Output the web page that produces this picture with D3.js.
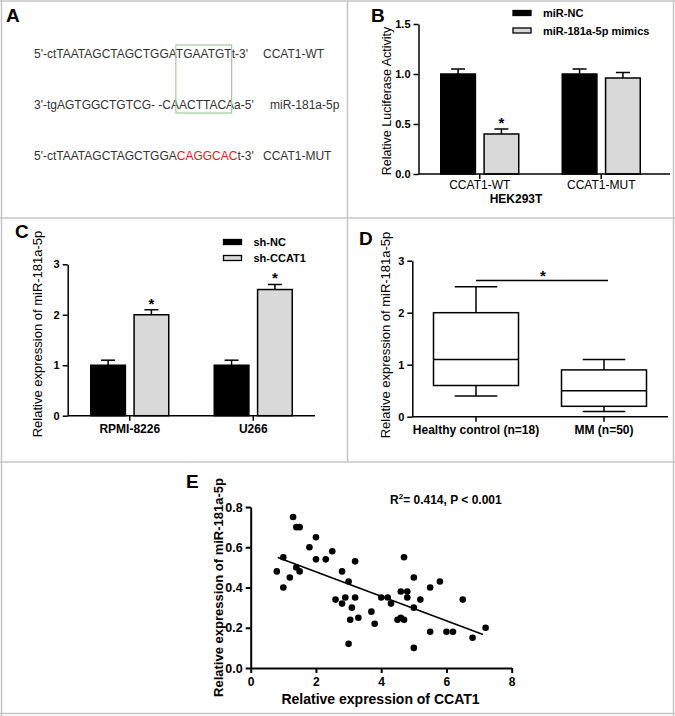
<!DOCTYPE html>
<html><head><meta charset="utf-8">
<script src="https://cdn.jsdelivr.net/npm/d3@7"></script>
<style>
html,body{margin:0;padding:0;background:#fff;}
svg{display:block;font-family:"Liberation Sans",Arial,sans-serif;}
</style></head><body>
<svg id="fig" width="675" height="716"></svg>
<script>
// ---------- DATA ----------
// Panel A: sequences
const seqWTPrefix = "5'-ctTAATAGCTAGCTGGA";
const seqWTSite = "TGAATGT";
const seqWTSuffix = "t-3'";
const seqMiR = "3'-tgAGTGGCTGTCG-  -CAACTTACAa-5'";
const seqMUTPrefix = "5'-ctTAATAGCTAGCTGGA";
const seqMUTSite = "CAGGCAC";
const seqMUTSuffix = "t-3'";
const seqNames = ["CCAT1-WT", "miR-181a-5p", "CCAT1-MUT"];

// Panel B
const bGroups = ["CCAT1-WT", "CCAT1-MUT"];
const bSeries = ["miR-NC", "miR-181a-5p mimics"];
const bValues = [[1.0, 0.40], [1.0, 0.96]];
const bErrors = [[0.05, 0.05], [0.05, 0.055]];
const bStars = [[false, true], [false, false]];
const bYTicks = [0, 0.5, 1.0, 1.5];
const bXTitle = "HEK293T";
const bYTitle = "Relative Luciferase Activity";

// Panel C
const cGroups = ["RPMI-8226", "U266"];
const cSeries = ["sh-NC", "sh-CCAT1"];
const cValues = [[1.0, 2.0], [1.0, 2.5]];
const cErrors = [[0.1, 0.1], [0.1, 0.1]];
const cStars = [[false, true], [false, true]];
const cYTicks = [0, 1, 2, 3];
const cYTitle = "Relative expression of miR-181a-5p";

// Panel D
const dGroups = ["Healthy control (n=18)", "MM (n=50)"];
const dMin = [0.4, 0.1];
const dQ1 = [0.6, 0.2];
const dMedian = [1.1, 0.5];
const dQ3 = [2.0, 0.9];
const dMax = [2.5, 1.1];
const dYTicks = [0, 1, 2, 3];
const dSigLevel = 2.62;
const dYTitle = "Relative expression of miR-181a-5p";

// Panel E
const eCCAT1 = [0.8,1.0,1.0,1.2,1.3,1.4,1.5,1.4,1.5,1.8,2.0,2.0,2.3,2.5,2.6,2.8,2.8,2.9,3.0,3.2,3.2,3.1,3.05,3.3,3.0,3.7,3.8,4.0,4.2,4.3,4.5,4.6,4.7,4.6,4.7,4.8,4.8,5.0,5.0,5.0,5.2,5.5,5.5,5.8,6.0,6.2,6.5,6.8,7.2];
const eMiR   = [0.48,0.55,0.40,0.45,0.75,0.70,0.70,0.50,0.48,0.60,0.65,0.54,0.54,0.58,0.34,0.48,0.32,0.35,0.43,0.53,0.35,0.30,0.24,0.25,0.12,0.28,0.22,0.35,0.35,0.32,0.24,0.25,0.24,0.38,0.55,0.38,0.35,0.45,0.30,0.10,0.34,0.40,0.18,0.43,0.18,0.18,0.34,0.15,0.20];
const eFitX = [0.83, 7.12];
const eFitY = [0.549, 0.166];
const eXTicks = [0, 2, 4, 6, 8];
const eYTicks = [0, 0.2, 0.4, 0.6, 0.8];
const eXTitle = "Relative expression of CCAT1";
const eYTitle = "Relative expression of miR-181a-5p";
const eStat = ["R", "2", "= 0.414, P < 0.001"];

// ---------- DRAW ----------
const FONT = '"Liberation Sans", Arial, sans-serif';
const svg = d3.select("#fig");
const GRAYFILL = "#d9d9d9";

// frame lines
const frame = svg.append("g").attr("stroke", "#c6c6c6").attr("stroke-width", 1.5).attr("fill", "none");
frame.append("line").attr("x1", 0).attr("x2", 675).attr("y1", 1).attr("y2", 1);
frame.append("line").attr("x1", 0).attr("x2", 675).attr("y1", 218).attr("y2", 218);
frame.append("line").attr("x1", 0).attr("x2", 675).attr("y1", 462).attr("y2", 462);
frame.append("line").attr("x1", 0).attr("x2", 675).attr("y1", 713.5).attr("y2", 713.5);
frame.append("line").attr("x1", 1.5).attr("x2", 1.5).attr("y1", 0).attr("y2", 716);
frame.append("line").attr("x1", 673.5).attr("x2", 673.5).attr("y1", 0).attr("y2", 716);
frame.append("line").attr("x1", 347.5).attr("x2", 347.5).attr("y1", 0).attr("y2", 462);

function panelLetter(t, x, y) {
  svg.append("text").attr("x", x).attr("y", y).text(t)
    .attr("font-family", FONT).attr("font-weight", "bold").attr("font-size", 19).attr("fill", "#000");
}
panelLetter("A", 6, 22);
panelLetter("B", 371, 22);
panelLetter("C", 15, 238);
panelLetter("D", 359, 245);
panelLetter("E", 186, 488);

// ---------- Panel A ----------
const aG = svg.append("g").attr("font-family", FONT).attr("font-size", 12).attr("fill", "#333")
  .style("white-space", "pre");
const aX = 34;
const t1 = aG.append("text").attr("x", aX).attr("y", 58);
const t1a = t1.append("tspan").text(seqWTPrefix);
t1.append("tspan").text(seqWTSite);
t1.append("tspan").text(seqWTSuffix);
aG.append("text").attr("x", 263).attr("y", 58).text(seqNames[0]);
aG.append("text").attr("x", aX).attr("y", 109).text(seqMiR);
aG.append("text").attr("x", 270).attr("y", 109).text(seqNames[1]);
const t3 = aG.append("text").attr("x", aX).attr("y", 160);
t3.append("tspan").text(seqMUTPrefix);
t3.append("tspan").text(seqMUTSite).attr("fill", "#e02020");
t3.append("tspan").text(seqMUTSuffix);
aG.append("text").attr("x", 263).attr("y", 160).text(seqNames[2]);
// green seed box measured from text
const tnode = t1.node();
const boxL = aX + tnode.getSubStringLength(0, seqWTPrefix.length);
const boxW = tnode.getSubStringLength(seqWTPrefix.length, seqWTSite.length);
svg.append("rect").attr("x", boxL).attr("y", 45).attr("width", boxW).attr("height", 68)
  .attr("fill", "none").attr("stroke", "#9fce9f").attr("stroke-width", 1.2);

// ---------- helpers ----------
function styleAxis(g, sw, fs) {
  g.attr("font-family", FONT).attr("font-size", fs).attr("font-weight", "bold");
  g.select(".domain").attr("stroke", "#000").attr("stroke-width", sw);
  g.selectAll(".tick line").attr("stroke", "#000").attr("stroke-width", sw);
  g.selectAll(".tick text").attr("fill", "#000");
}

function barPanel(o) {
  const g = svg.append("g");
  const y = d3.scaleLinear().domain([o.yTicks[0], o.yTicks[o.yTicks.length - 1]]).range(o.yRange);
  const x = d3.scaleBand().domain(o.groups).range(o.xBand).padding(0);
  const sub = d3.scaleBand().domain(o.series).range([-o.subHalf, o.subHalf]).paddingInner(o.subPad);
  // bars
  o.groups.forEach((grp, i) => {
    o.series.forEach((s, j) => {
      const cx = x(grp) + x.bandwidth() / 2;
      const bx = cx + sub(s);
      const v = o.values[i][j], e = o.errors[i][j];
      const bcx = bx + sub.bandwidth() / 2;
      // error bar
      g.append("line").attr("x1", bcx).attr("x2", bcx).attr("y1", y(v)).attr("y2", y(v + e))
        .attr("stroke", "#000").attr("stroke-width", 1.5);
      g.append("line").attr("x1", bcx - 7).attr("x2", bcx + 7).attr("y1", y(v + e)).attr("y2", y(v + e))
        .attr("stroke", "#000").attr("stroke-width", 1.5);
      g.append("rect").attr("x", bx).attr("y", y(v)).attr("width", sub.bandwidth())
        .attr("height", y(0) - y(v)).attr("fill", j === 0 ? "#000" : GRAYFILL)
        .attr("stroke", "#000").attr("stroke-width", 1.5);
      if (o.stars[i][j]) {
        g.append("text").attr("x", bcx).attr("y", y(v + e) - 1).attr("text-anchor", "middle")
          .attr("font-family", FONT).attr("font-weight", "bold").attr("font-size", 15).text("*");
      }
    });
  });
  // axes
  const ya = g.append("g").attr("transform", `translate(${o.xAxisStart},0)`)
    .call(d3.axisLeft(y).tickValues(o.yTicks).tickFormat(o.yFmt).tickSize(5).tickSizeOuter(0));
  styleAxis(ya, 1.5, 11);
  const xa = g.append("g").attr("transform", `translate(0,${o.yRange[0]})`)
    .call(d3.axisBottom(x).tickSize(5).tickSizeOuter(0));
  styleAxis(xa, 1.5, 12);
  xa.select(".domain").attr("d", `M${o.xAxisStart},0H${o.xAxisEnd}`);
  xa.selectAll(".tick text").attr("font-weight", o.xLabelWeight).attr("dy", null).attr("y", o.xLabelDy);
  // y title
  g.append("text").attr("transform", `translate(${o.yTitleX},${o.yTitleY}) rotate(-90)`)
    .attr("text-anchor", "middle").attr("font-family", FONT).attr("font-size", o.yTitleSize)
    .attr("fill", "#000").text(o.yTitle);
  // legend
  o.series.forEach((s, j) => {
    g.append("rect").attr("x", o.legX).attr("y", o.legY + j * o.legStep).attr("width", 18).attr("height", 5)
      .attr("fill", j === 0 ? "#000" : GRAYFILL).attr("stroke", "#000").attr("stroke-width", 1.3);
    g.append("text").attr("x", o.legX + 30).attr("y", o.legY + j * o.legStep + 6.5)
      .attr("font-family", FONT).attr("font-weight", "bold").attr("font-size", 11).text(s);
  });
  return g;
}

// ---------- Panel B ----------
const gB = barPanel({
  groups: bGroups, series: bSeries, values: bValues, errors: bErrors, stars: bStars,
  yTicks: bYTicks, yRange: [174, 24], yFmt: d3.format(".1f"),
  xBand: [419, 662], subHalf: 39, subPad: 0.2, xAxisStart: 418.5, xAxisEnd: 670,
  xLabelWeight: "normal", xLabelDy: 15,
  yTitle: bYTitle, yTitleX: 391, yTitleY: 101, yTitleSize: 12.5,
  legX: 513, legY: 10.5, legStep: 17.5
});
gB.append("text").attr("x", 516).attr("y", 203).attr("text-anchor", "middle")
  .attr("font-family", FONT).attr("font-weight", "bold").attr("font-size", 12).text(bXTitle);

// ---------- Panel C ----------
barPanel({
  groups: cGroups, series: cSeries, values: cValues, errors: cErrors, stars: cStars,
  yTicks: cYTicks, yRange: [415.7, 264.3], yFmt: d3.format("d"),
  xBand: [68, 315], subHalf: 39, subPad: 0.2, xAxisStart: 67.7, xAxisEnd: 315,
  xLabelWeight: "bold", xLabelDy: 17,
  yTitle: cYTitle, yTitleX: 42, yTitleY: 334, yTitleSize: 13,
  legX: 223.5, legY: 239.5, legStep: 16
});

// ---------- Panel D ----------
(function () {
  const g = svg.append("g");
  const y = d3.scaleLinear().domain([0, 3]).range([416.7, 260.7]);
  const x = d3.scaleBand().domain(dGroups).range([412, 668]).padding(0);
  const bw = 85;
  dGroups.forEach((grp, i) => {
    const cx = x(grp) + x.bandwidth() / 2;
    const st = { stroke: "#000", "stroke-width": 1.5 };
    const ln = (x1, y1, x2, y2) => g.append("line").attr("x1", x1).attr("y1", y1).attr("x2", x2).attr("y2", y2)
      .attr("stroke", "#000").attr("stroke-width", 1.5);
    ln(cx, y(dQ3[i]), cx, y(dMax[i]));
    ln(cx, y(dQ1[i]), cx, y(dMin[i]));
    ln(cx - bw / 4, y(dMax[i]), cx + bw / 4, y(dMax[i]));
    ln(cx - bw / 4, y(dMin[i]), cx + bw / 4, y(dMin[i]));
    g.append("rect").attr("x", cx - bw / 2).attr("y", y(dQ3[i])).attr("width", bw)
      .attr("height", y(dQ1[i]) - y(dQ3[i])).attr("fill", "#fff").attr("stroke", "#000").attr("stroke-width", 1.5);
    ln(cx - bw / 2, y(dMedian[i]), cx + bw / 2, y(dMedian[i]));
  });
  const c0 = x(dGroups[0]) + x.bandwidth() / 2, c1 = x(dGroups[1]) + x.bandwidth() / 2;
  g.append("line").attr("x1", c0).attr("x2", c1 + 4).attr("y1", y(dSigLevel)).attr("y2", y(dSigLevel))
    .attr("stroke", "#000").attr("stroke-width", 1.5);
  g.append("text").attr("x", (c0 + c1) / 2 + 3).attr("y", y(dSigLevel) + 1).attr("text-anchor", "middle")
    .attr("font-family", FONT).attr("font-weight", "bold").attr("font-size", 15).text("*");
  const ya = g.append("g").attr("transform", "translate(412.3,0)")
    .call(d3.axisLeft(y).tickValues(dYTicks).tickFormat(d3.format("d")).tickSize(5).tickSizeOuter(0));
  styleAxis(ya, 1.5, 11);
  const xa = g.append("g").attr("transform", `translate(0,${y(0)})`)
    .call(d3.axisBottom(x).tickSize(5).tickSizeOuter(0));
  styleAxis(xa, 1.5, 12);
  xa.select(".domain").attr("d", "M412.3,0H668");
  xa.selectAll(".tick text").attr("dy", null).attr("y", 17);
  g.append("text").attr("transform", "translate(390,335) rotate(-90)")
    .attr("text-anchor", "middle").attr("font-family", FONT).attr("font-size", 13).text(dYTitle);
})();

// ---------- Panel E ----------
(function () {
  const g = svg.append("g");
  const x = d3.scaleLinear().domain([0, 8]).range([250.7, 511.7]);
  const y = d3.scaleLinear().domain([0, 0.8]).range([668, 507]);
  const xa = g.append("g").attr("transform", `translate(0,${y(0)})`)
    .call(d3.axisBottom(x).tickValues(eXTicks).tickFormat(d3.format("d")).tickSize(5).tickSizeOuter(0));
  styleAxis(xa, 2, 12);
  xa.selectAll(".tick text").attr("dy", null).attr("y", 18);
  const ya = g.append("g").attr("transform", `translate(${x(0)},0)`)
    .call(d3.axisLeft(y).tickValues(eYTicks).tickFormat(d3.format(".1f")).tickSize(5).tickSizeOuter(0));
  styleAxis(ya, 2, 12.5);
  g.selectAll("circle.pt").data(eCCAT1.map((v, i) => [v, eMiR[i]])).join("circle")
    .attr("class", "pt").attr("cx", d => x(d[0])).attr("cy", d => y(d[1])).attr("r", 3.3).attr("fill", "#000");
  g.append("line").attr("x1", x(eFitX[0])).attr("y1", y(eFitY[0])).attr("x2", x(eFitX[1])).attr("y2", y(eFitY[1]))
    .attr("stroke", "#000").attr("stroke-width", 1.6);
  g.append("text").attr("x", 380.5).attr("y", 704).attr("text-anchor", "middle")
    .attr("font-family", FONT).attr("font-weight", "bold").attr("font-size", 14).text(eXTitle);
  g.append("text").attr("transform", "translate(223,587.5) rotate(-90)")
    .attr("text-anchor", "middle").attr("font-family", FONT).attr("font-weight", "bold").attr("font-size", 13).text(eYTitle);
  const st = g.append("text").attr("x", 390).attr("y", 504)
    .attr("font-family", FONT).attr("font-weight", "bold").attr("font-size", 12);
  st.append("tspan").text(eStat[0]);
  st.append("tspan").text(eStat[1]).attr("font-size", 8).attr("dy", -5);
  st.append("tspan").text(eStat[2]).attr("dy", 5);
})();
</script>
</body></html>
